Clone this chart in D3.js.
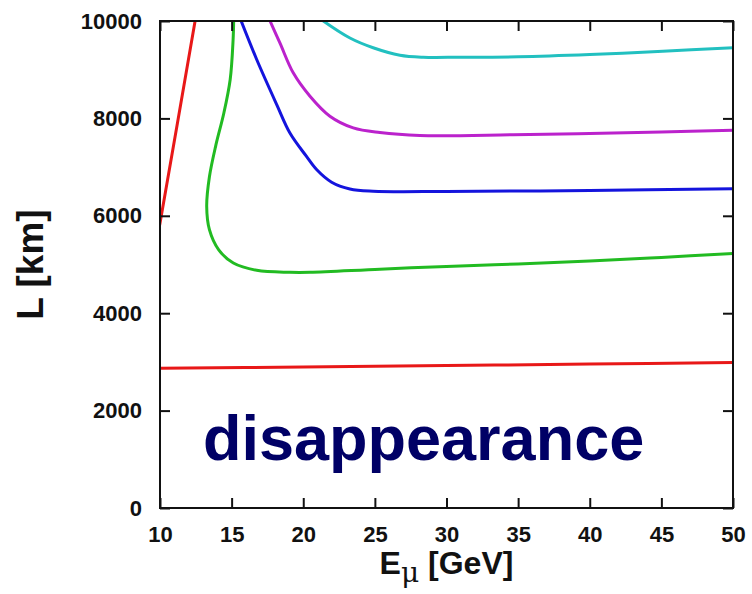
<!DOCTYPE html>
<html lang="en">
<head>
<meta charset="UTF-8">
<title>disappearance</title>
<style>
body{margin:0;background:#fff}
svg text{font-family:"Liberation Sans",Arial,sans-serif}
</style>
</head>
<body>
<svg id="chart" width="752" height="594"></svg>
<script src="https://cdn.jsdelivr.net/npm/d3@7"></script>
<script>
// tick values
var xTicks=[10,15,20,25,30,35,40,45,50]
var yTicks=[0,2000,4000,6000,8000,10000]

// contour curves, [E_mu (GeV), L (km)]
var redLeft=[[9.9,5700],[10,5850],[12.45,10000]]
var redLow=[[10,2870],[20,2895],[30,2925],[40,2955],[50,2990]]
var green=[[15.15,10100],[15.1,9600],[14.9,8800],[14.45,8100],[13.9,7450],[13.45,6800],[13.26,6190],[13.45,5715],[14.1,5300],[15.12,5030],[16.75,4880],[19.07,4840],[20.47,4840],[25.35,4905],[30,4960],[35,5010],[40,5070],[45,5145],[50,5225]]
var blue=[[15.6,10050],[16.75,9210],[18.14,8290],[19.07,7700],[20.2,7230],[20.93,6950],[21.98,6690],[23.26,6550],[24.88,6505],[30,6500],[40,6520],[50,6555]]
var magenta=[[17.68,10000],[18.37,9550],[19.3,8935],[20.47,8455],[21.86,8045],[23.49,7805],[25.35,7710],[28.14,7650],[34.65,7665],[40,7690],[45,7720],[50,7755]]
var cyan=[[21.3,10020],[23.26,9650],[24.88,9450],[26.75,9297],[28.37,9256],[30.95,9256],[35,9265],[40,9311],[45.1,9379],[50,9450]]

var curves=[
  {d:redLeft,c:'#e81818'},
  {d:redLow,c:'#e81818'},
  {d:green,c:'#22bb22'},
  {d:blue,c:'#1414dd'},
  {d:magenta,c:'#bb22cc'},
  {d:cyan,c:'#22c0c0'}
]

var margin={top:21,right:19,bottom:86,left:160}
var width=752,height=594
var svg=d3.select('#chart')

var x=d3.scaleLinear().domain([10,50]).range([margin.left,width-margin.right])
var y=d3.scaleLinear().domain([0,10000]).range([height-margin.bottom,margin.top])

svg.append('clipPath').attr('id','clip').append('rect')
  .attr('x',x(10)).attr('y',y(10000)).attr('width',x(50)-x(10)).attr('height',y(0)-y(10000))

var line=d3.line().x(d=>x(d[0])).y(d=>y(d[1])).curve(d3.curveCatmullRom.alpha(0.5))

svg.append('g').attr('clip-path','url(#clip)')
  .selectAll('path').data(curves).join('path')
  .attr('fill','none').attr('stroke',d=>d.c).attr('stroke-width',3)
  .attr('stroke-linejoin','round').attr('d',d=>line(d.d))

// axes with inward ticks on all four sides
var tk=10
svg.append('g').attr('transform',`translate(0,${y(0)})`)
  .call(d3.axisBottom(x).tickValues(xTicks).tickSize(-tk).tickPadding(tk+8))
  .call(g=>g.select('.domain').remove())
svg.append('g').attr('transform',`translate(0,${y(10000)})`)
  .call(d3.axisTop(x).tickValues(xTicks).tickSize(-tk).tickFormat(''))
  .call(g=>g.select('.domain').remove())
svg.append('g').attr('transform',`translate(${x(10)},0)`)
  .call(d3.axisLeft(y).tickValues(yTicks).tickSize(-tk).tickPadding(tk+8).tickFormat(d3.format('d')))
  .call(g=>g.select('.domain').remove())
svg.append('g').attr('transform',`translate(${x(50)},0)`)
  .call(d3.axisRight(y).tickValues(yTicks).tickSize(-tk).tickFormat(''))
  .call(g=>g.select('.domain').remove())

svg.selectAll('.tick line').attr('stroke','#111').attr('stroke-width',2)
svg.selectAll('.tick text').attr('font-size',22).attr('font-weight','bold').attr('fill','#111')
  .attr('font-family','"Liberation Sans",Arial,sans-serif')

svg.append('rect').attr('x',x(10)).attr('y',y(10000))
  .attr('width',x(50)-x(10)).attr('height',y(0)-y(10000))
  .attr('fill','none').attr('stroke','#111').attr('stroke-width',2)

// axis titles
svg.append('text').attr('transform',`translate(43,${(y(0)+y(10000))/2}) rotate(-90)`)
  .attr('text-anchor','middle').attr('font-size',37).attr('font-weight','bold').attr('fill','#111')
  .text('L [km]')

var xt=svg.append('text').attr('x',(x(10)+x(50))/2).attr('y',574)
  .attr('text-anchor','middle').attr('font-size',32).attr('font-weight','bold').attr('fill','#111')
xt.append('tspan').text('E')
xt.append('tspan').attr('dy',8).attr('font-weight','normal').attr('font-size',28)
  .attr('font-family','"DejaVu Serif",serif').text('\u03bc')
xt.append('tspan').attr('dy',-8).text(' [GeV]')

svg.append('text').attr('x',203).attr('y',460)
  .attr('font-size',63).attr('font-weight','bold').attr('fill','#000066')
  .text('disappearance')
</script>
</body>
</html>
